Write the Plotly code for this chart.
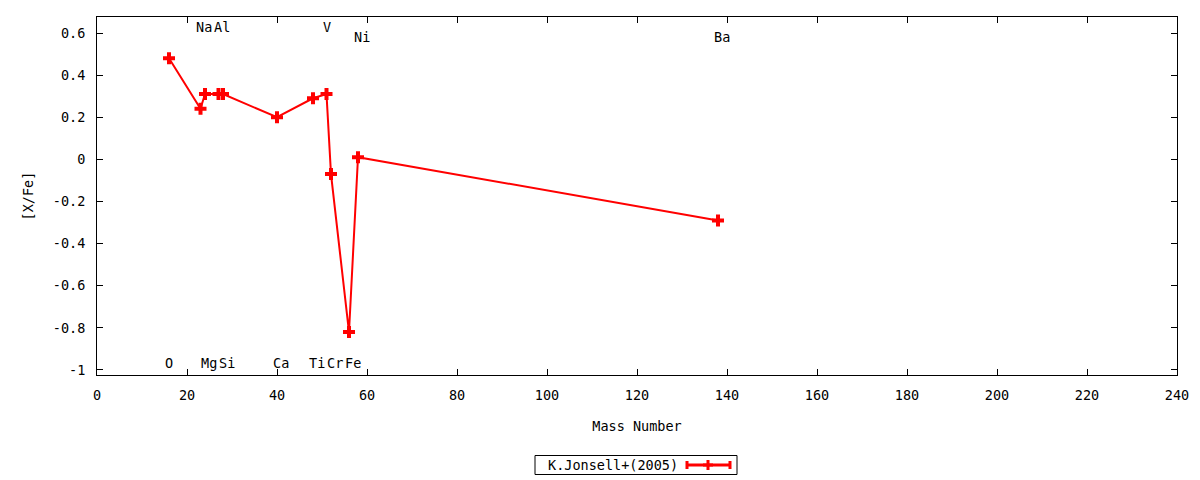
import plotly.graph_objects as go

# Data
elements = ["O", "Na", "Mg", "Al", "Si", "Ca", "Ti", "V", "Cr", "Fe", "Ni", "Ba"]
mass_number = [16, 23, 24, 27, 28, 40, 48, 51, 52, 56, 58, 138]
x_fe = [0.48, 0.24, 0.31, 0.31, 0.31, 0.20, 0.29, 0.31, -0.07, -0.82, 0.01, -0.29]
label_row = ["bottom", "top", "bottom", "top", "bottom", "bottom", "bottom", "top",
             "bottom", "bottom", "top2", "top2"]
series_name = "K.Jonsell+(2005)"

x_ticks = list(range(0, 241, 20))
y_ticks = [-1, -0.8, -0.6, -0.4, -0.2, 0, 0.2, 0.4, 0.6]
y_ticktext = ["-1", "-0.8", "-0.6", "-0.4", "-0.2", "0", "0.2", "0.4", "0.6"]

FONT = "DejaVu Sans Mono"
FS = 13.5
RED = "#ff0000"

fig = go.Figure()
fig.add_trace(go.Scatter(
    x=mass_number, y=x_fe, mode="lines+markers", name=series_name,
    line=dict(color=RED, width=2),
    marker=dict(symbol="cross", size=10, color=RED, line=dict(width=0)),
    showlegend=False, cliponaxis=False,
))

row_y = {"top": 0.628, "top2": 0.581, "bottom": -0.967}
for el, m, r in zip(elements, mass_number, label_row):
    shift = 0.8 if len(el) > 1 else 0.0
    fig.add_annotation(x=m + shift, y=row_y[r], xref="x", yref="y", text=el,
                       showarrow=False, xanchor="center", yanchor="middle",
                       font=dict(family=FONT, size=FS, color="black"))

# custom gnuplot-style legend (key) below the plot
ly = -0.2514
fig.add_shape(type="rect", xref="paper", yref="paper", xsizemode="pixel", ysizemode="pixel",
              xanchor=0.5, yanchor=ly, x0=-102, x1=100, y0=-9.5, y1=9.5,
              line=dict(color="black", width=1), fillcolor="white")
fig.add_annotation(x=0.5, y=ly, xref="paper", yref="paper", text=series_name,
                   showarrow=False, xanchor="right", yanchor="middle", xshift=43,
                   font=dict(family=FONT, size=FS, color="black"))
fig.add_shape(type="path", xref="paper", yref="paper", xsizemode="pixel", ysizemode="pixel",
              xanchor=0.5, yanchor=ly,
              path="M 50 0 L 93 0 M 50 -4 L 50 4 M 93 -4 L 93 4",
              line=dict(color=RED, width=3))
fig.add_shape(type="path", xref="paper", yref="paper", xsizemode="pixel", ysizemode="pixel",
              xanchor=0.5, yanchor=ly,
              path="M 66 0 L 76 0 M 71 -5 L 71 5",
              line=dict(color=RED, width=3))

axis_common = dict(showgrid=False, zeroline=False, showline=True, linecolor="black",
                   linewidth=1, mirror="ticks", ticks="inside", ticklen=6,
                   tickcolor="black", tickfont=dict(family=FONT, size=FS, color="black"))

fig.update_layout(
    width=1200, height=480,
    margin=dict(l=97, r=23, t=17, b=105),
    paper_bgcolor="white", plot_bgcolor="white",
    xaxis=dict(range=[0, 240], tickvals=x_ticks, ticklabelstandoff=8,
               title=dict(text="Mass Number", standoff=19,
                          font=dict(family=FONT, size=FS, color="black")),
               **axis_common),
    yaxis=dict(range=[-1.024, 0.676], tickvals=y_ticks, ticktext=y_ticktext,
               ticklabelstandoff=8,
               title=dict(text="[X/Fe]", standoff=16,
                          font=dict(family=FONT, size=FS, color="black")),
               **axis_common),
    showlegend=False,
)

fig.write_html("out.html", config={"displayModeBar": False},
               post_script="document.body.style.margin='0';document.body.style.overflow='hidden';")
